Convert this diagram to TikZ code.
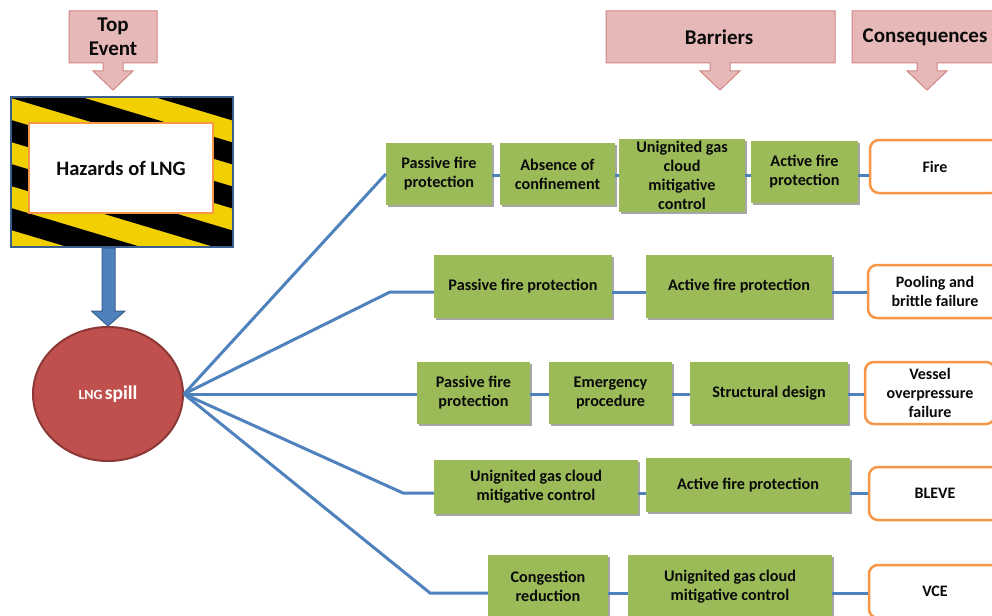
\documentclass[tikz,border=0pt]{standalone}
\usepackage{fontspec}
\setmainfont{Carlito}
\usetikzlibrary{shadows,calc,shapes.geometric}
\definecolor{gfill}{HTML}{9BBB59}
\definecolor{corange}{HTML}{F79646}
\definecolor{lblue}{HTML}{4F81BD}
\definecolor{dblue}{HTML}{3A5F8F}
\definecolor{sred}{HTML}{C0504D}
\definecolor{sdark}{HTML}{8C3836}
\definecolor{pfill}{HTML}{E6B9B8}
\definecolor{pdraw}{HTML}{D08684}
\definecolor{hyel}{HTML}{F2CF00}
\definecolor{txt}{HTML}{0A0A0A}
\begin{document}
\begin{tikzpicture}[x=1pt,y=-1pt,
  gbox/.style={fill=gfill, draw=none, drop shadow={shadow xshift=2pt,shadow yshift=-2pt,opacity=0.35,fill=black},
    align=center, font=\bfseries\fontsize{16.2}{19}\selectfont, text=txt, inner sep=0pt},
  cbox/.style={fill=white, draw=corange, line width=2.5pt, rounded corners=9pt, align=center,
    font=\bfseries\fontsize{16}{19}\selectfont, text=txt, inner sep=0pt},
  link/.style={draw=lblue, line width=3pt},
  callout/.style={fill=pfill, draw=pdraw, line width=1pt},
  ctext/.style={font=\bfseries\fontsize{21}{24}\selectfont, text=txt, align=center, inner sep=0pt},
]
\useasboundingbox (0,0) rectangle (992,615);

% callouts
\draw[callout] (69,11) -- (157,11) -- (157,63) -- (123,63) -- (123,71) -- (133,71) -- (113,90)
  -- (93,71) -- (103,71) -- (103,63) -- (69,63) -- cycle;
\node[ctext] (top) at (113,37) {Top\\Event};
\draw[callout] (606,11) -- (835,11) -- (835,63) -- (730,63) -- (730,71) -- (740,71) -- (720,90)
  -- (700,71) -- (710,71) -- (710,63) -- (606,63) -- cycle;
\node[ctext] (bar) at (719,37) {Barriers};
\draw[callout] (852,11) -- (998,11) -- (998,63) -- (937,63) -- (937,71) -- (947,71) -- (927,90)
  -- (907,71) -- (917,71) -- (917,63) -- (852,63) -- cycle;
\node[ctext] (cons) at (925,37) {Consequences};

% hazard box with stripes
\begin{scope}
  \clip (11,97) rectangle (233,247);
  \fill[hyel] (11,97) rectangle (233,247);
  \foreach \k in {-4,...,5}{
    \fill[black] (0,{-3.3+76+44*\k}) -- (250,{75+76+44*\k-3.3}) -- (250,{75+98+44*\k-3.3}) -- (0,{-3.3+98+44*\k}) -- cycle;
  }
\end{scope}
\node[draw=dblue, line width=2pt, minimum width=222pt, minimum height=150pt, inner sep=0pt] (haz) at (122,172) {};
\node[fill=white, draw=corange, line width=2.5pt, minimum width=184pt, minimum height=90pt, inner sep=0pt,
  font=\bfseries\fontsize{20.5}{24}\selectfont, text=txt] (hazin) at (121,168) {Hazards of LNG};

% spill
\node[ellipse, minimum width=150pt, minimum height=134pt, fill=sred, draw=sdark, line width=2pt, inner sep=0pt,
  text=white, font=\bfseries] (spill) at (108,394)
  {{\fontsize{14}{16}\selectfont LNG} {\fontsize{19.5}{22}\selectfont spill}};

% big arrow
\coordinate (tip) at (spill.north);
\draw[fill=lblue, draw=dblue, line width=1pt] (tip) -- ++(-16.5,-15) -- ++(10.5,0) -- ($(tip |- haz.south)+(-6,0)$)
  -- ($(tip |- haz.south)+(7,0)$) -- ($(tip)+(7,-15)$) -- ++(10,0) -- cycle;

% row 1
\node[gbox, minimum width=106pt, minimum height=62pt] (r1a) at (439,174) {Passive fire\\protection};
\node[gbox, minimum width=115pt, minimum height=62pt] (r1b) at (557.5,174) {Absence of\\confinement};
\node[gbox, minimum width=126pt, minimum height=73pt] (r1c) at (682,175.5) {Unignited gas\\cloud\\mitigative\\control};
\node[gbox, minimum width=107pt, minimum height=62pt] (r1d) at (804.5,172) {Active fire\\protection};
\node[cbox, minimum width=130pt, minimum height=53pt] (r1e) at (935,166.5) {Fire};
% row 2
\node[gbox, minimum width=178pt, minimum height=63pt] (r2a) at (523,286.5) {Passive fire protection};
\node[gbox, minimum width=186pt, minimum height=63pt] (r2b) at (739,286.5) {Active fire protection};
\node[cbox, minimum width=134pt, minimum height=53pt] (r2c) at (935,291.5) {Pooling and\\brittle failure};
% row 3
\node[gbox, minimum width=113pt, minimum height=62pt] (r3a) at (473.5,393) {Passive fire\\protection};
\node[gbox, minimum width=123pt, minimum height=62pt] (r3b) at (610.5,393) {Emergency\\procedure};
\node[gbox, minimum width=158pt, minimum height=62pt] (r3c) at (769,393) {Structural design};
\node[cbox, minimum width=130pt, minimum height=62pt] (r3d) at (930,393) {Vessel\\overpressure\\failure};
% row 4
\node[gbox, minimum width=204pt, minimum height=54pt] (r4a) at (536,487) {Unignited gas cloud\\mitigative control};
\node[gbox, minimum width=204pt, minimum height=54pt] (r4b) at (748,485) {Active fire protection};
\node[cbox, minimum width=132pt, minimum height=53pt] (r4c) at (935,493.5) {BLEVE};
% row 5
\node[gbox, minimum width=120pt, minimum height=63pt] (r5a) at (548,586.5) {Congestion\\reduction};
\node[gbox, minimum width=204pt, minimum height=63pt] (r5b) at (730,586.5) {Unignited gas cloud\\mitigative control};
\node[cbox, minimum width=132pt, minimum height=53pt] (r5c) at (935,591.5) {VCE};

% row levels
\coordinate (L1) at (0,175);
\coordinate (L2) at (0,292);
\coordinate (L3) at (0,394);
\coordinate (L4) at (0,493);
\coordinate (L5) at (0,593);
\coordinate (c2) at (390,292);
\coordinate (c4) at (403,493);
\coordinate (c5) at (430,593);

\draw[link] (spill.east) -- (r1a.west);
\draw[link] (spill.east) -- (c2) -- (r2a.west |- L2);
\draw[link] (spill.east) -- (r3a.west |- L3);
\draw[link] (spill.east) -- (c4) -- (r4a.west |- L4);
\draw[link] (spill.east) -- (c5) -- (r5a.west |- L5);
\draw[link] (r1a.east |- L1) -- (r1b.west |- L1);
\draw[link] (r1b.east |- L1) -- (r1c.west |- L1);
\draw[link] (r1c.east |- L1) -- (r1d.west |- L1);
\draw[link] (r1d.east |- L1) -- (r1e.west |- L1);
\draw[link] (r2a.east |- L2) -- (r2b.west |- L2);
\draw[link] (r2b.east |- L2) -- (r2c.west |- L2);
\draw[link] (r3a.east |- L3) -- (r3b.west |- L3);
\draw[link] (r3b.east |- L3) -- (r3c.west |- L3);
\draw[link] (r3c.east |- L3) -- (r3d.west |- L3);
\draw[link] (r4a.east |- L4) -- (r4b.west |- L4);
\draw[link] (r4b.east |- L4) -- (r4c.west |- L4);
\draw[link] (r5a.east |- L5) -- (r5b.west |- L5);
\draw[link] (r5b.east |- L5) -- (r5c.west |- L5);
\end{tikzpicture}
\end{document}
